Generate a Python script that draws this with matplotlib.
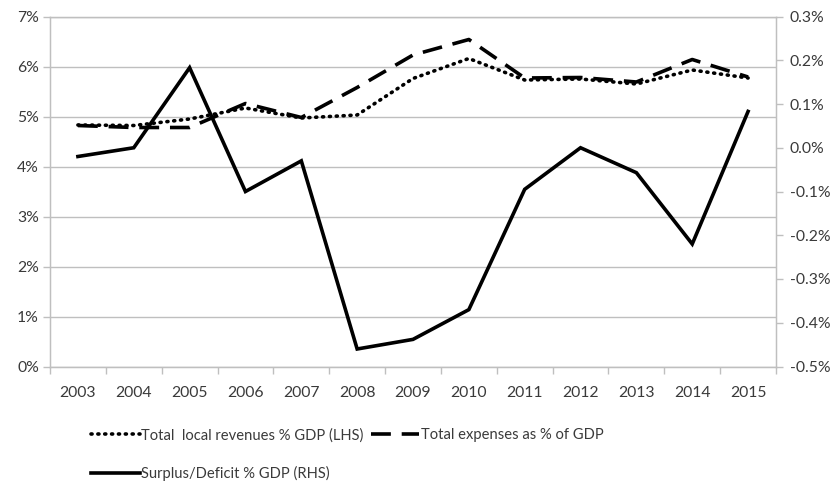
import numpy as np
import matplotlib.pyplot as plt
from matplotlib.ticker import FuncFormatter, FixedLocator

plt.rcParams['font.family'] = ['Lato', 'DejaVu Sans']
plt.rcParams['axes.unicode_minus'] = False

years = ["2003", "2004", "2005", "2006", "2007", "2008", "2009",
         "2010", "2011", "2012", "2013", "2014", "2015"]
revenues = [4.83, 4.82, 4.95, 5.17, 4.97, 5.03, 5.76, 6.16, 5.73, 5.75, 5.65, 5.93, 5.77]
expenses = [4.82, 4.78, 4.78, 5.26, 4.98, 5.58, 6.23, 6.54, 5.77, 5.78, 5.69, 6.14, 5.79]
surplus = [-0.02, 0.00, 0.183, -0.10, -0.03, -0.46, -0.438, -0.37,
           -0.095, 0.00, -0.057, -0.22, 0.083]

grey = '#bfbfbf'
txt = '#3a3a3a'
fs = 11.3
x = np.arange(len(years))


def pct1(v, pos):
    v = round(v, 1)
    if v == 0:
        v = 0.0
    return f"{v:.1f}%"


fig = plt.figure(figsize=(8.39, 4.83), dpi=100)
ax = fig.add_axes([50 / 839, 1 - 366.5 / 483, 726 / 839, 350 / 483])

l1, = ax.plot(x, revenues, color='black', lw=2.6, linestyle=(0, (0.3, 1.6)),
              dash_capstyle='round', label='Total  local revenues % GDP (LHS)')
l2, = ax.plot(x, expenses, color='black', lw=2.6, linestyle=(0, (5.5, 3)),
              label='Total expenses as % of GDP')

ax.set_xlim(-0.5, len(years) - 0.5)
ax.set_ylim(0, 7)
ax.set_yticks(np.arange(0, 8, 1))
ax.yaxis.set_major_formatter(FuncFormatter(lambda v, p: f"{v:.0f}%"))
ax.set_xticks(x)
ax.set_xticklabels(years)
ax.xaxis.set_minor_locator(FixedLocator(np.arange(-0.5, len(years), 1)))
ax.tick_params(axis='x', which='major', length=0, pad=14, labelsize=fs, labelcolor=txt)
ax.tick_params(axis='x', which='minor', length=5, color=grey, width=1)
ax.tick_params(axis='y', length=5, color=grey, width=1, pad=3, labelsize=fs, labelcolor=txt)
ax.grid(axis='y', color=grey, lw=1)
ax.set_axisbelow(True)
for s in ['left', 'bottom', 'top', 'right']:
    ax.spines[s].set_color(grey)
    ax.spines[s].set_linewidth(1)

ax2 = ax.twinx()
l3, = ax2.plot(x, surplus, color='black', lw=2.6, solid_joinstyle='miter',
               label='Surplus/Deficit % GDP (RHS)')
ax2.set_ylim(-0.5, 0.3)
ax2.set_yticks(np.round(np.arange(-0.5, 0.31, 0.1), 1))
ax2.yaxis.set_major_formatter(FuncFormatter(pct1))
ax2.tick_params(axis='y', length=5, color=grey, width=1, pad=5, labelsize=fs, labelcolor=txt)
for s in ['left', 'bottom', 'top', 'right']:
    ax2.spines[s].set_color(grey)

fig.legend(handles=[l1, l3, l2], ncol=2, frameon=False,
           loc='upper left', bbox_to_anchor=(91 / 839, 1 - 428 / 483),
           handlelength=3.3, handletextpad=0.1, columnspacing=0.5,
           labelspacing=1.6, fontsize=10.6, labelcolor=txt,
           borderaxespad=0, borderpad=0)

fig.savefig('out.png', dpi=100)
